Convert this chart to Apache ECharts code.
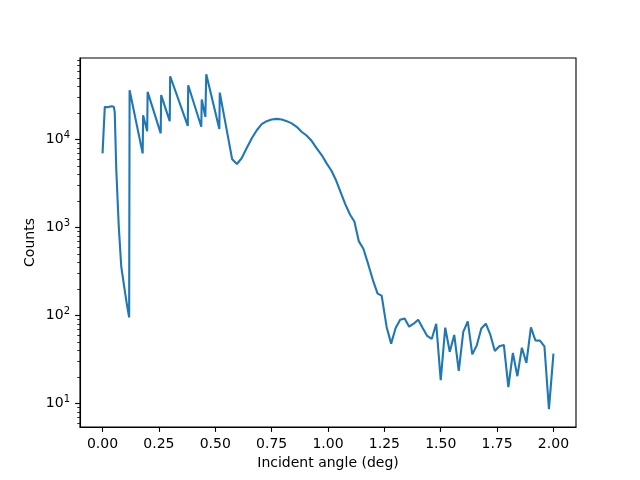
<!DOCTYPE html>
<html>
<head>
<meta charset="utf-8">
<script src="https://cdn.jsdelivr.net/npm/echarts@6/dist/echarts.min.js"></script>
<style>
	html, body {margin: 0; padding: 0; background: #fff;}
	#chart {width: 640px; height: 480px;}
</style>
</head>
<body>
<div id="chart"></div>
<script>
// incident angle (deg); repeated angles are where the scans were stitched
const angles = [
	0.00, 0.01, 0.02, 0.03, 0.04, 0.05, 0.054, 0.061, 0.072, 0.083, 0.098, 0.107, 0.118,
	0.12, 0.178, 0.18, 0.198, 0.20, 0.258, 0.26, 0.298, 0.30, 0.378, 0.38, 0.438, 0.44,
	0.456, 0.46, 0.518, 0.52, 0.575, 0.596, 0.617, 0.639, 0.662, 0.684, 0.706, 0.728,
	0.75, 0.773, 0.795, 0.817, 0.839, 0.861, 0.883, 0.906, 0.928, 0.95, 0.972, 0.994,
	1.016, 1.035, 1.058, 1.078, 1.098, 1.117, 1.137, 1.157, 1.179, 1.201, 1.22, 1.238,
	1.26, 1.28, 1.30, 1.32, 1.34, 1.36, 1.38, 1.40, 1.42, 1.44, 1.46, 1.48, 1.50,
	1.52, 1.54, 1.56, 1.58, 1.60, 1.62, 1.64, 1.66, 1.68, 1.70, 1.72, 1.74, 1.76,
	1.78, 1.80, 1.82, 1.84, 1.86, 1.88, 1.90, 1.92, 1.94, 1.96, 1.98, 2.00
]
const counts = [
	6930, 23400, 23200, 23400, 23800, 23400, 20500, 4490, 1020, 359, 196, 138, 95,
	36100, 6930, 18800, 12400, 34600, 11700, 31800, 16100, 52100, 14200, 41200, 13900, 28400,
	18000, 54800, 13100, 34000, 5930, 5250, 6100, 7910, 10300, 12700, 14900, 16100,
	16800, 17100, 16800, 16100, 15200, 13900, 12200, 11000, 9570, 7910, 6640, 5340,
	4370, 3460, 2440, 1800, 1390, 1166, 693, 571, 377, 243, 177, 168,
	74, 47.8, 71.9, 89.3, 92.5, 74.5, 80.5, 89.3, 72, 58.4, 54, 80.5, 18.4,
	72.5, 38.7, 60, 23.5, 64.9, 85.5, 36.1, 45.7, 71, 80.5, 60.4, 39.5, 44.6,
	46.2, 15.3, 37.5, 20.4, 43, 28.9, 73.2, 52, 51.7, 44.6, 8.6, 36.8
]

const xTicks = [0, 0.25, 0.5, 0.75, 1.0, 1.25, 1.5, 1.75, 2.0]
const yTicks = [10, 100, 1000, 10000]
const yMinorTicks = [
	6, 7, 8, 9,
	20, 30, 40, 50, 60, 70, 80, 90,
	200, 300, 400, 500, 600, 700, 800, 900,
	2000, 3000, 4000, 5000, 6000, 7000, 8000, 9000,
	20000, 30000, 40000, 50000, 60000, 70000, 80000
]

const font = 'DejaVu Sans'
const yMin = 5.4
const yMax = 84000

const chart = echarts.init(document.getElementById('chart'), null, {renderer: 'canvas'})

chart.setOption({
	animation: false,
	backgroundColor: '#fff',
	textStyle: {fontFamily: font},
	grid: {
		left: 80,
		right: 64,
		top: 58,
		bottom: 53,
		show: true,
		borderColor: '#000',
		borderWidth: 1.1,
		backgroundColor: 'transparent'
	},
	xAxis: {
		type: 'value',
		min: -0.1,
		max: 2.1,
		name: 'Incident angle (deg)',
		nameLocation: 'middle',
		nameGap: 29,
		nameMoveOverlap: false,
		nameTextStyle: {fontSize: 14, color: '#000', fontFamily: font},
		axisLine: {show: true, onZero: false, lineStyle: {color: '#000', width: 1.1}},
		axisTick: {show: true, customValues: xTicks, length: 4.9, lineStyle: {color: '#000', width: 1.1}},
		axisLabel: {
			customValues: xTicks,
			margin: 10,
			fontSize: 14,
			color: '#000',
			fontFamily: font,
			formatter: v => v.toFixed(2)
		},
		splitLine: {show: false}
	},
	yAxis: [{
		type: 'log',
		logBase: 10,
		min: yMin,
		max: yMax,
		name: 'Counts',
		nameLocation: 'middle',
		nameGap: 43,
		nameMoveOverlap: false,
		nameTextStyle: {fontSize: 14, color: '#000', fontFamily: font},
		axisLine: {show: true, onZero: false, lineStyle: {color: '#000', width: 1.1}},
		axisTick: {show: true, customValues: yTicks, length: 4.9, lineStyle: {color: '#000', width: 1.1}},
		axisLabel: {
			customValues: yTicks,
			margin: 10,
			color: '#000',
			fontFamily: font,
			formatter: v => '{b|10}{s|' + Math.round(Math.log10(v)) + '}',
			rich: {
				b: {fontSize: 14, fontFamily: font, color: '#000'},
				s: {fontSize: 10, fontFamily: font, color: '#000', verticalAlign: 'top', padding: [0, 0, 8, 0]}
			}
		},
		splitLine: {show: false}
	}, {
		// minor ticks only
		type: 'log',
		logBase: 10,
		min: yMin,
		max: yMax,
		position: 'left',
		axisLine: {show: false, onZero: false},
		axisTick: {show: true, customValues: yMinorTicks, length: 2.8, lineStyle: {color: '#000', width: 0.8}},
		axisLabel: {show: false},
		splitLine: {show: false}
	}],
	series: [{
		type: 'line',
		data: angles.map((a, i) => [a, counts[i]]),
		showSymbol: false,
		symbol: 'none',
		lineStyle: {color: '#1f77b4', width: 2.1},
		itemStyle: {color: '#1f77b4'},
		z: 3
	}]
})
</script>
</body>
</html>
